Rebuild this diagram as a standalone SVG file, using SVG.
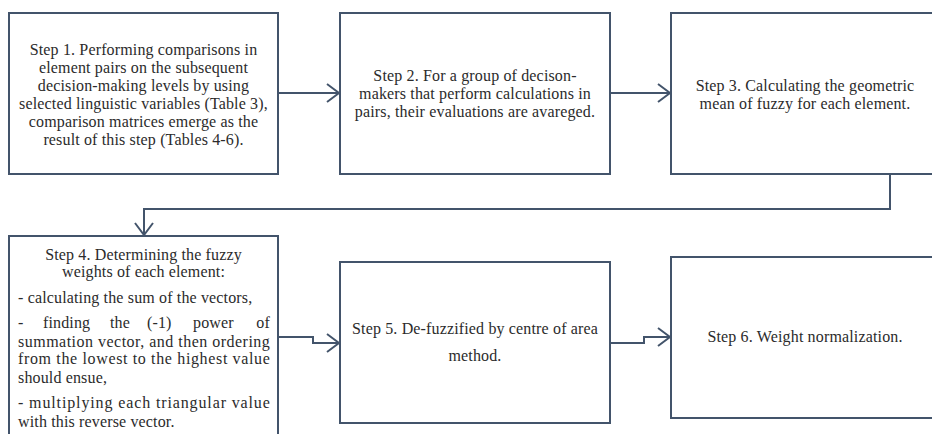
<svg xmlns="http://www.w3.org/2000/svg" width="932" height="434" viewBox="0 0 932 434">
<defs>
<style>
.box{fill:#fff;stroke:#43546b;stroke-width:2}
.con{fill:none;stroke:#43546b;stroke-width:2}
text{font-family:"Liberation Serif","DejaVu Serif",serif;font-size:16px;letter-spacing:0.15px;fill:#2b2b2b}
.c{text-anchor:middle}
.e{text-anchor:end}
</style>
<marker id="arr" markerUnits="userSpaceOnUse" viewBox="0 0 14 20" markerWidth="14" markerHeight="20" refX="13" refY="10" orient="auto">
<path d="M1,1 L13,10 L1,19" fill="none" stroke="#43546b" stroke-width="2"/>
</marker>
</defs>
<rect width="932" height="434" fill="#fff"/>
<g id="connectors">
<path class="con" d="M279,93 H339" marker-end="url(#arr)"/>
<path class="con" d="M610,93 H670" marker-end="url(#arr)"/>
<path class="con" d="M890,174 V209 H144 V235" marker-end="url(#arr)"/>
<path class="con" d="M279,337 H313 V343 H339" marker-end="url(#arr)"/>
<path class="con" d="M610,343 H644 V337 H670" marker-end="url(#arr)"/>
</g>
<g id="step1">
<rect class="box" x="9" y="13" width="269" height="161"/>
<text class="c" x="143.5" y="55">Step 1. Performing comparisons in</text>
<text class="c" x="143.5" y="73">element pairs on the subsequent</text>
<text class="c" x="143.5" y="91">decision-making levels by using</text>
<text class="c" x="143.5" y="109">selected linguistic variables (Table 3),</text>
<text class="c" x="143.5" y="127">comparison matrices emerge as the</text>
<text class="c" x="143.5" y="145">result of this step (Tables 4-6).</text>
</g>
<g id="step2">
<rect class="box" x="340" y="13" width="270" height="161"/>
<text class="c" x="475" y="81">Step 2. For a group of decison-</text>
<text class="c" x="475" y="99">makers that perform calculations in</text>
<text class="c" x="475" y="117">pairs, their evaluations are avareged.</text>
</g>
<g id="step3">
<rect class="box" x="671" y="13" width="275" height="161"/>
<text class="c" x="805" y="91">Step 3. Calculating the geometric</text>
<text class="c" x="805" y="109">mean of fuzzy for each element.</text>
</g>
<g id="step4">
<rect class="box" x="9" y="236" width="269" height="210"/>
<text class="c" x="143.5" y="260">Step 4. Determining the fuzzy</text>
<text class="c" x="143.5" y="277">weights of each element:</text>
<text x="18" y="303">- calculating the sum of the vectors,</text>
<text x="18" y="328">-</text>
<text x="43" y="328">finding</text>
<text x="110" y="328">the</text>
<text x="147" y="328">(-1)</text>
<text x="193" y="328">power</text>
<text class="e" x="270" y="328">of</text>
<text x="18" y="346.5" textLength="252" lengthAdjust="spacing">summation vector, and then ordering</text>
<text x="18" y="364" textLength="252" lengthAdjust="spacing">from the lowest to the highest value</text>
<text x="18" y="383">should ensue,</text>
<text x="18" y="408" textLength="252" lengthAdjust="spacing">- multiplying each triangular value</text>
<text x="18" y="426.5">with this reverse vector.</text>
</g>
<g id="step5">
<rect class="box" x="340" y="262" width="270" height="161"/>
<text class="c" x="475" y="334">Step 5. De-fuzzified by centre of area</text>
<text class="c" x="475" y="361">method.</text>
</g>
<g id="step6">
<rect class="box" x="671" y="257" width="275" height="161"/>
<text class="c" x="805" y="342">Step 6. Weight normalization.</text>
</g>
</svg>
